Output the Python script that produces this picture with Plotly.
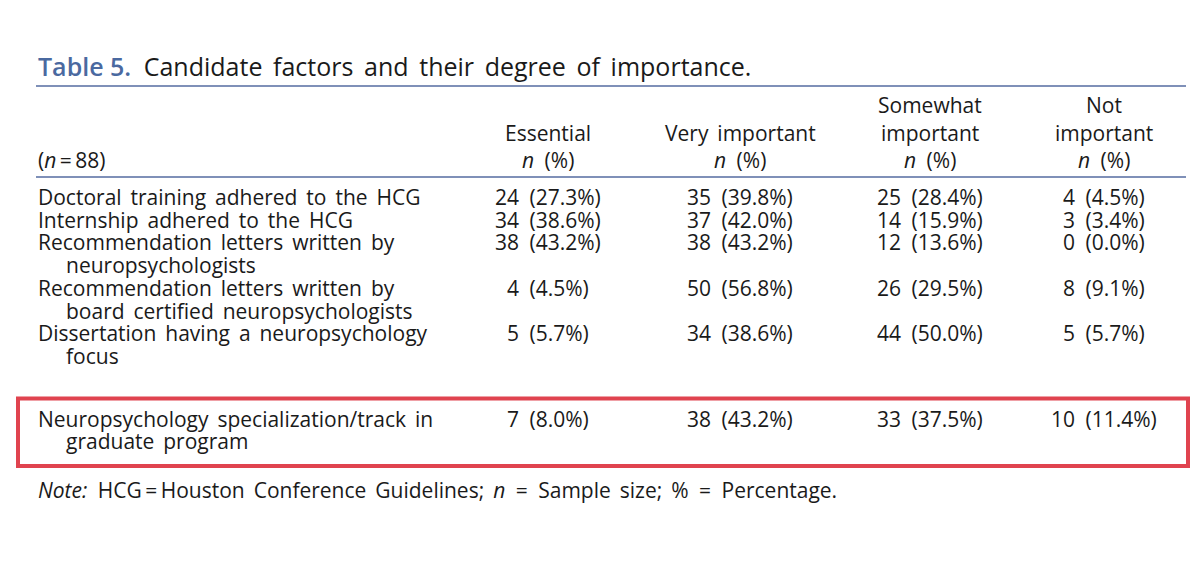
import plotly.graph_objects as go

# table contents
factor_lines = [
    ["Doctoral training adhered to the HCG"],
    ["Internship adhered to the HCG"],
    ["Recommendation letters written by", "neuropsychologists"],
    ["Recommendation letters written by", "board certified neuropsychologists"],
    ["Dissertation having a neuropsychology", "focus"],
    ["Neuropsychology specialization/track in", "graduate program"],
]
col_heads = [
    ["Essential", "<i>n</i> (%)"],
    ["Very important", "<i>n</i> (%)"],
    ["Somewhat", "important", "<i>n</i> (%)"],
    ["Not", "important", "<i>n</i> (%)"],
]
essential_n = [24, 34, 38, 4, 5, 7]
essential_pct = [27.3, 38.6, 43.2, 4.5, 5.7, 8.0]
very_n = [35, 37, 38, 50, 34, 38]
very_pct = [39.8, 42.0, 43.2, 56.8, 38.6, 43.2]
somewhat_n = [25, 14, 12, 26, 44, 33]
somewhat_pct = [28.4, 15.9, 13.6, 29.5, 50.0, 37.5]
not_n = [4, 3, 0, 8, 5, 10]
not_pct = [4.5, 3.4, 0.0, 9.1, 5.7, 11.4]
highlight_row = 5

counts = [essential_n, very_n, somewhat_n, not_n]
pcts = [essential_pct, very_pct, somewhat_pct, not_pct]

FONT = "Open Sans"
TXT = "#1a1a1a"
SIZE = 21

# page body has an 8px margin, so the plot is shifted by that much
PAD = 8
W, H = 1200, 579
col_x = [548, 740, 930, 1104]
left_x = 36
indent_x = 64
line_h = 22.7
first_row_y = 197
row_gap = 40  # extra space before highlighted row

fig = go.Figure()
ann = []


def sp(s):
    # wider word spacing like the typeset original
    return s.replace(" ", " \u2009")


def text(x, y, s, anchor="left", size=SIZE, color=TXT):
    ann.append(dict(x=x, y=y, xref="x", yref="y", text=s, showarrow=False,
                    xanchor=anchor, yanchor="middle",
                    font=dict(family=FONT, size=size, color=color)))


# title
text(left_x, 66, "<span style='color:#4a69a0;font-weight:600'>Table\u00a05.</span>\u2002" +
     sp("Candidate factors and their degree of importance."), size=25)

# header
for i, head in enumerate(col_heads):
    y0 = 160 - (len(head) - 1) * 27.5
    for j, h in enumerate(head):
        text(col_x[i], y0 + j * 27.5, h.replace("</i> ", "</i>\u2002").replace("Very ", "Very \u2009"),
             anchor="center")
text(left_x, 160, "(<i>n</i>\u2009=\u200988)")

# body rows
y = first_row_y
row_tops = []
for r, lines in enumerate(factor_lines):
    if r == highlight_row:
        y += row_gap
    row_tops.append(y)
    for k, ln in enumerate(lines):
        text(left_x if k == 0 else indent_x, y + k * line_h, sp(ln))
    for c in range(4):
        text(col_x[c], y, f"{counts[c][r]}\u2002({pcts[c][r]:.1f}%)", anchor="center")
    y += line_h * len(lines)

note_y = y + 26
text(left_x, note_y,
     "<i>Note:</i>\u2002HCG\u2009=\u2009" + sp("Houston Conference Guidelines;") +
     " \u2009<i>n</i>\u2002=\u2002" + sp("Sample size;") + " \u2009%\u2002=\u2002Percentage.")

shapes = [
    dict(type="line", xref="x", yref="y", x0=36, x1=1186, y0=86, y1=86,
         line=dict(color="#7f90b8", width=2)),
    dict(type="line", xref="x", yref="y", x0=36, x1=1186, y0=177, y1=177,
         line=dict(color="#7f90b8", width=2)),
]
top = row_tops[highlight_row]
shapes.append(dict(type="rect", xref="x", yref="y", x0=18, x1=1188,
                   y0=top - 20, y1=top + line_h * 2 + 2,
                   line=dict(color="#e0434f", width=4)))

fig.update_layout(
    width=W - 2 * PAD, height=H - 2 * PAD, margin=dict(l=0, r=0, t=0, b=0),
    paper_bgcolor="white", plot_bgcolor="white",
    xaxis=dict(range=[PAD, W - PAD], visible=False, fixedrange=True),
    yaxis=dict(range=[H - PAD, PAD], visible=False, fixedrange=True),
    annotations=ann, shapes=shapes, showlegend=False,
)

fig.write_html("out.html")
